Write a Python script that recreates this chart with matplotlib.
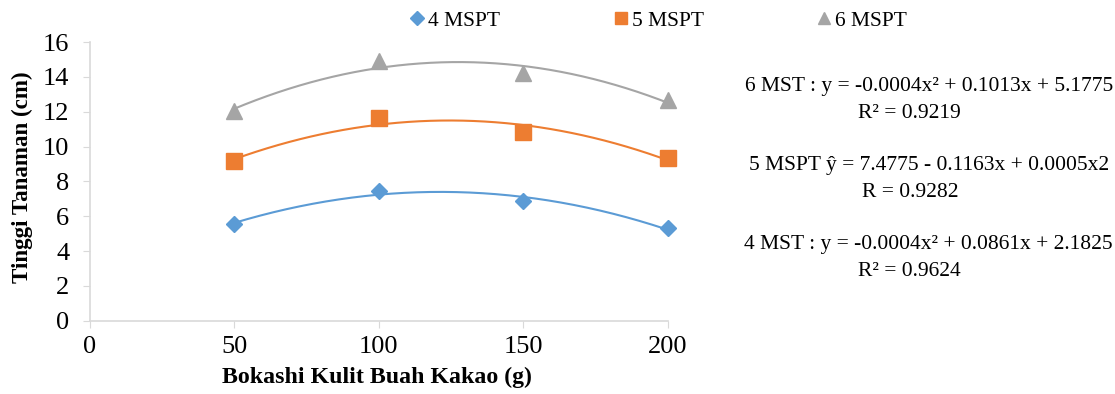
import numpy as np
import matplotlib
matplotlib.use('Agg')
import matplotlib.pyplot as plt
from matplotlib.lines import Line2D

plt.rcParams['font.family'] = ['Liberation Serif', 'DejaVu Serif']

dosis = [50, 100, 150, 200]
mspt4 = [5.55, 7.45, 6.9, 5.3]
mspt5 = [9.15, 11.65, 10.85, 9.35]
mspt6 = [12.05, 14.9, 14.25, 12.65]

labels = ['4 MSPT', '5 MSPT', '6 MSPT']
colors = ['#5b9bd5', '#ed7d31', '#a5a5a5']
markers = ['D', 's', '^']
msizes = [8, 11, 11]

eq_text = [
    ('6 MST : y = -0.0004x² + 0.1013x + 5.1775', 'R² = 0.9219'),
    ('5 MSPT ŷ = 7.4775 - 0.1163x + 0.0005x2', 'R = 0.9282'),
    ('4 MST : y = -0.0004x² + 0.0861x + 2.1825', 'R² = 0.9624'),
]


def main():
    fig = plt.figure(figsize=(11.15, 3.94), dpi=100)
    ax = fig.add_axes([0.0807, 0.186, 0.518, 0.707])

    xs = np.linspace(50, 200, 200)
    handles = []
    for y, lab, c, m, ms in zip([mspt4, mspt5, mspt6], labels, colors, markers, msizes):
        coef = np.polyfit(dosis, y, 2)
        ax.plot(xs, np.polyval(coef, xs), color=c, lw=1.5, zorder=2, clip_on=False)
        ax.plot(dosis, y, ls='none', marker=m, ms=ms, color=c, zorder=3, clip_on=False)
        handles.append(Line2D([], [], ls='none', marker=m, ms=ms * 0.85, color=c, label=lab))

    ax.set_xlim(0, 200)
    ax.set_ylim(0, 16)
    ax.set_xticks([0, 50, 100, 150, 200])
    ax.set_yticks(range(0, 17, 2))
    for s in ['top', 'right']:
        ax.spines[s].set_visible(False)
    for s in ['left', 'bottom']:
        ax.spines[s].set_color('#d9d9d9')
        ax.spines[s].set_linewidth(1.2)
    ax.tick_params(axis='both', colors='#d9d9d9', labelcolor='black', labelsize=19, length=5)
    ax.tick_params(axis='x', pad=6)
    ax.tick_params(axis='y', pad=10)

    ax.set_xlabel('Bokashi Kulit Buah Kakao (g)', fontsize=17.2, fontweight='bold')
    ax.set_ylabel('Tinggi Tanaman (cm)', fontsize=16.6, fontweight='bold')
    ax.xaxis.set_label_coords(0.496, -0.165)
    ax.yaxis.set_label_coords(-0.099, 0.514)

    fig.legend(handles=handles, loc='center', bbox_to_anchor=(0.589, 0.948), ncol=3,
               frameon=False, fontsize=15.5, handletextpad=0.0, columnspacing=5.1,
               handlelength=1.0)

    ys = [0.78, 0.58, 0.38]
    for (l1, l2), yy in zip(eq_text, ys):
        fig.text(0.833, yy, l1, ha='center', va='center', fontsize=15.5)
        fig.text(0.816, yy - 0.068, l2, ha='center', va='center', fontsize=15.5)

    fig.savefig('out.png', dpi=100)


if __name__ == '__main__':
    main()
